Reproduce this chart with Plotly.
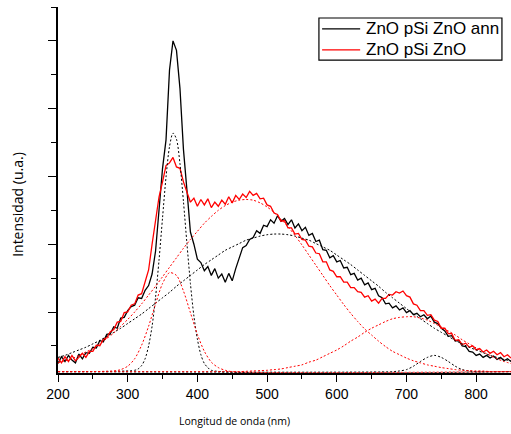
import plotly.graph_objects as go

# PL spectra, 5 nm grid (intensity in arbitrary units)
wavelength = list(range(200, 855, 5))

ann_intensity = [
    0.12, 0.22, 0.15, 0.24, 0.17, 0.13, 0.26, 0.19, 0.28, 0.27,
    0.36, 0.35, 0.46, 0.44, 0.55, 0.56, 0.66, 0.64, 0.79, 0.80,
    0.90, 0.96, 0.98, 1.09, 1.08, 1.20, 1.27, 1.44, 1.78, 2.45,
    3.00, 3.42, 4.45, 4.88, 4.74, 4.18, 3.28, 2.68, 2.06, 1.88,
    1.66, 1.61, 1.49, 1.55, 1.42, 1.52, 1.38, 1.44, 1.32, 1.45,
    1.34, 1.52, 1.68, 1.83, 1.86, 1.95, 1.98, 2.08, 2.04, 2.16,
    2.14, 2.24, 2.19, 2.30, 2.22, 2.26, 2.17, 2.24, 2.12, 2.18,
    2.08, 2.13, 2.01, 2.04, 1.92, 1.94, 1.80, 1.79, 1.68, 1.71,
    1.62, 1.64, 1.53, 1.54, 1.43, 1.45, 1.35, 1.38, 1.28, 1.31,
    1.21, 1.23, 1.12, 1.09, 1.00, 1.01, 0.94, 0.97, 0.91, 0.94,
    0.87, 0.90, 0.84, 0.86, 0.81, 0.84, 0.78, 0.82, 0.73, 0.71,
    0.64, 0.60, 0.52, 0.53, 0.45, 0.46, 0.38, 0.37, 0.30, 0.29,
    0.24, 0.26, 0.21, 0.24, 0.20, 0.23, 0.18, 0.21, 0.16, 0.19,
    0.15,
]

asdep_intensity = [
    0.20, 0.13, 0.22, 0.15, 0.24, 0.16, 0.21, 0.27, 0.21, 0.30,
    0.30, 0.39, 0.38, 0.48, 0.50, 0.59, 0.62, 0.73, 0.74, 0.87,
    0.88, 0.98, 1.00, 1.13, 1.15, 1.34, 1.50, 1.88, 2.22, 2.58,
    2.80, 3.04, 3.08, 3.16, 3.02, 3.00, 2.80, 2.64, 2.50, 2.56,
    2.44, 2.54, 2.46, 2.55, 2.42, 2.50, 2.44, 2.53, 2.47, 2.58,
    2.49, 2.60, 2.54, 2.62, 2.57, 2.66, 2.60, 2.63, 2.55, 2.56,
    2.46, 2.44, 2.34, 2.32, 2.22, 2.23, 2.12, 2.12, 2.03, 2.04,
    1.95, 1.94, 1.85, 1.84, 1.75, 1.74, 1.62, 1.62, 1.50, 1.48,
    1.40, 1.40, 1.32, 1.32, 1.24, 1.24, 1.18, 1.17, 1.10, 1.12,
    1.04, 1.07, 1.01, 1.08, 1.08, 1.14, 1.13, 1.18, 1.16, 1.19,
    1.12, 1.10, 1.00, 0.98, 0.90, 0.90, 0.83, 0.84, 0.76, 0.74,
    0.64, 0.64, 0.56, 0.56, 0.46, 0.47, 0.40, 0.42, 0.36, 0.38,
    0.32, 0.34, 0.29, 0.32, 0.27, 0.30, 0.25, 0.28, 0.22, 0.25,
    0.20,
]

# fitted components (dashed)
broad_x = list(range(200, 860, 10))
ann_broad = [
    0.21, 0.24, 0.28, 0.32, 0.36, 0.41, 0.46, 0.52, 0.58, 0.64,
    0.71, 0.78, 0.85, 0.93, 1.01, 1.09, 1.17, 1.26, 1.34, 1.42,
    1.50, 1.58, 1.65, 1.72, 1.79, 1.84, 1.89, 1.94, 1.97, 2.00,
    2.02, 2.03, 2.03, 2.02, 2.00, 1.97, 1.94, 1.89, 1.84, 1.79,
    1.72, 1.65, 1.58, 1.50, 1.42, 1.34, 1.26, 1.17, 1.09, 1.01,
    0.93, 0.85, 0.78, 0.71, 0.64, 0.58, 0.52, 0.46, 0.41, 0.36,
    0.32, 0.28, 0.24, 0.21, 0.18, 0.16,
]
asdep_broad = [
    0.13, 0.16, 0.19, 0.24, 0.29, 0.34, 0.41, 0.49, 0.57, 0.67,
    0.77, 0.88, 1.00, 1.13, 1.26, 1.40, 1.54, 1.68, 1.82, 1.95,
    2.07, 2.19, 2.29, 2.38, 2.45, 2.50, 2.53, 2.54, 2.53, 2.49,
    2.43, 2.35, 2.25, 2.14, 2.01, 1.87, 1.72, 1.57, 1.42, 1.27,
    1.13, 0.99, 0.86, 0.74, 0.63, 0.54, 0.45, 0.37, 0.30, 0.25,
    0.20, 0.16, 0.13, 0.10, 0.08, 0.06, 0.045, 0.03, 0.02, 0.015,
    0.01, 0.01, 0.0, 0.0, 0.0, 0.0,
]

ann_uv_x = [200] + list(range(310, 425, 5)) + [850]
ann_uv = [0.0, 0.02, 0.04, 0.09, 0.19, 0.38, 0.67, 1.10, 1.65, 2.27, 2.87,
          3.32, 3.52, 3.43, 3.07, 2.51, 1.89, 1.30, 0.82, 0.48, 0.25,
          0.12, 0.06, 0.02, 0.0]

asdep_uv_x = [200] + list(range(280, 460, 10)) + [850]
asdep_uv = [0.0, 0.01, 0.03, 0.08, 0.19, 0.39, 0.67, 1.00, 1.30, 1.46, 1.42,
            1.19, 0.87, 0.55, 0.30, 0.14, 0.06, 0.02, 0.0, 0.0]

asdep_red_x = [200] + list(range(450, 860, 10))
asdep_red = [0.0, 0.0, 0.0, 0.005, 0.01, 0.015, 0.02, 0.03, 0.04, 0.06, 0.08,
             0.10, 0.14, 0.17, 0.22, 0.27, 0.32, 0.38, 0.45, 0.51, 0.58,
             0.64, 0.69, 0.74, 0.78, 0.80, 0.81, 0.81, 0.79, 0.76, 0.71,
             0.66, 0.60, 0.54, 0.47, 0.41, 0.35, 0.29, 0.24, 0.19, 0.15,
             0.12]

ann_ir_x = [200] + list(range(680, 810, 10)) + [850]
ann_ir = [0.0, 0.0, 0.01, 0.03, 0.08, 0.15, 0.21, 0.24, 0.21, 0.15, 0.08,
          0.03, 0.01, 0.0, 0.0]

series_names = ['ZnO pSi ZnO ann', 'ZnO pSi ZnO']
series_colors = ['black', '#ff0000']

fig = go.Figure()

fig.add_trace(go.Scatter(x=wavelength, y=ann_intensity, mode='lines', name=series_names[0],
                         showlegend=False, line=dict(color=series_colors[0], width=1.3)))
fig.add_trace(go.Scatter(x=wavelength, y=asdep_intensity, mode='lines', name=series_names[1],
                         showlegend=False, line=dict(color=series_colors[1], width=1.3)))

dash = '2px,2px'
for xs, ys, col in [(broad_x, ann_broad, 'black'), (ann_uv_x, ann_uv, 'black'),
                    (ann_ir_x, ann_ir, 'black'), (broad_x, asdep_broad, '#ff0000'),
                    (asdep_uv_x, asdep_uv, '#ff0000'), (asdep_red_x, asdep_red, '#ff0000')]:
    fig.add_trace(go.Scatter(x=xs, y=ys, mode='lines', showlegend=False, hoverinfo='skip',
                             line=dict(color=col, width=1, dash=dash, shape='spline', smoothing=0.8)))

# legend box drawn by hand so its row spacing matches the original
shapes = [dict(type='rect', xref='paper', yref='paper', x0=0.576, x1=0.980, y0=0.855, y1=0.970,
               line=dict(color='black', width=1.2), fillcolor='white', layer='above')]
annotations = []
for i, (name, col) in enumerate(zip(series_names, series_colors)):
    yy = 0.940 - i * 0.057
    shapes.append(dict(type='line', xref='paper', yref='paper', x0=0.583, x1=0.667,
                       y0=yy, y1=yy, line=dict(color=col, width=1.3), layer='above'))
    annotations.append(dict(text=name, xref='paper', yref='paper', x=0.676, y=yy,
                            xanchor='left', yanchor='middle', showarrow=False,
                            font=dict(size=17)))

annotations += [
    dict(text='Intensidad (u.a.)', textangle=-90, xref='paper', yref='paper',
         x=-0.09, y=0.46, xanchor='center', yanchor='middle', showarrow=False,
         font=dict(family='Open Sans', size=14)),
    dict(text='Longitud de onda (nm)', xref='paper', yref='paper',
         x=0.389, y=-0.131, xanchor='center', yanchor='middle', showarrow=False,
         font=dict(family='Open Sans', size=10.5)),
]

fig.update_layout(
    width=511, height=434,
    margin=dict(l=58, r=0, t=7, b=61),
    paper_bgcolor='white', plot_bgcolor='white',
    font=dict(family='Arial, Liberation Sans, sans-serif', color='black'),
    showlegend=False,
    shapes=shapes,
    annotations=annotations,
)

fig.update_xaxes(range=[200, 850], tickmode='linear', tick0=200, dtick=100,
                 ticks='outside', ticklen=7, tickwidth=1.3, tickcolor='black',
                 tickfont=dict(size=14), showline=True, linecolor='black', linewidth=1.5,
                 showgrid=False, zeroline=False,
                 minor=dict(dtick=50, tick0=200, ticks='outside', ticklen=4, tickcolor='black'))
fig.update_yaxes(range=[-0.02, 5.38], tickmode='linear', tick0=0.88, dtick=1,
                 ticks='outside', ticklen=8, tickwidth=1.3, tickcolor='black',
                 showticklabels=False, showline=True, linecolor='black', linewidth=1.5,
                 showgrid=False, zeroline=False,
                 minor=dict(dtick=0.5, tick0=0.38, ticks='outside', ticklen=5, tickcolor='black'))

fig.write_html("out.html", config={'displayModeBar': False},
               post_script="document.body.style.margin='0';")
